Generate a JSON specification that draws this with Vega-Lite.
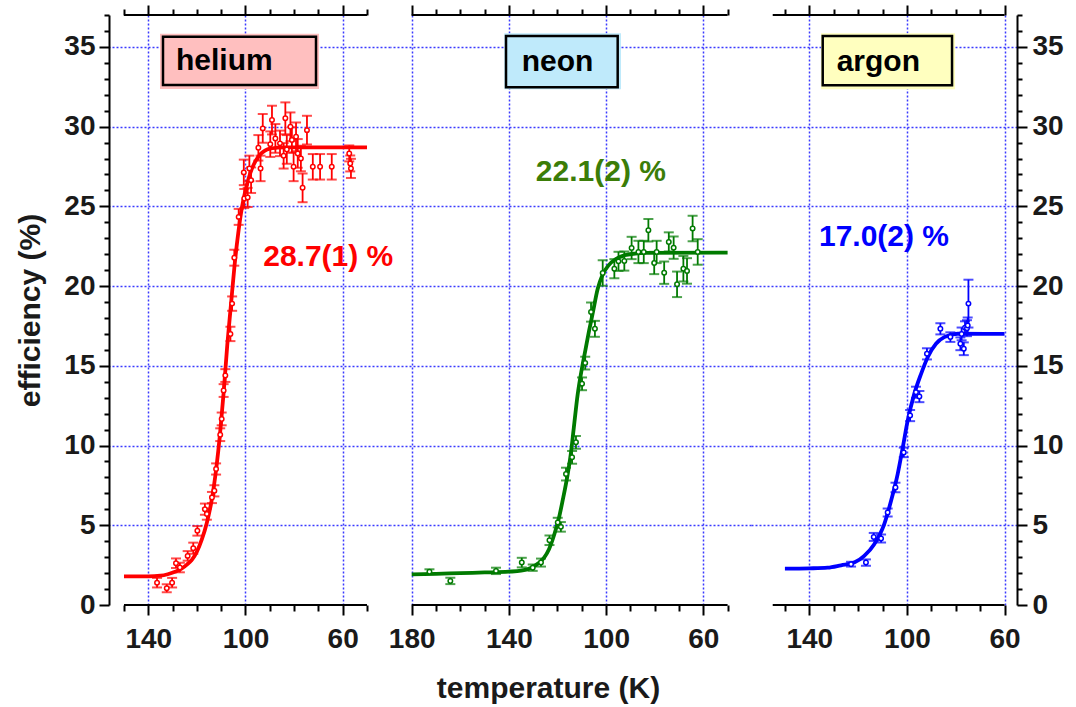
{
  "$schema": "https://vega.github.io/schema/vega-lite/v6.json",
  "background": "white",
  "padding": {"top": 1, "left": 15, "right": 5, "bottom": 5},
  "config": {"view": {"stroke": null}, "font": "Liberation Sans"},
  "spacing": 0,
  "bounds": "flush",
  "datasets": {
    "frame": [
      {"gas": "helium", "side": "bottom", "T": 150, "T2": 50, "eff": 0},
      {"gas": "helium", "side": "top", "T": 150, "T2": 50, "eff": 37},
      {"gas": "neon", "side": "bottom", "T": 180, "T2": 50, "eff": 0},
      {"gas": "neon", "side": "top", "T": 180, "T2": 50, "eff": 37},
      {"gas": "argon", "side": "bottom", "T": 155, "T2": 60, "eff": 0},
      {"gas": "argon", "side": "top", "T": 155, "T2": 60, "eff": 37}
    ],
    "boxes": [
      {"gas": "helium", "part": "halo", "T": 135.18, "T2": 69.75, "eff": 35.82, "eff2": 32.36},
      {"gas": "helium", "part": "frame", "T": 133.95, "T2": 70.98, "eff": 35.63, "eff2": 32.61},
      {"gas": "neon", "part": "halo", "T": 141.89, "T2": 93.87, "eff": 35.86, "eff2": 32.34},
      {"gas": "neon", "part": "frame", "T": 141.19, "T2": 95.23, "eff": 35.69, "eff2": 32.47},
      {"gas": "argon", "part": "halo", "T": 135.21, "T2": 80.29, "eff": 35.86, "eff2": 32.34},
      {"gas": "argon", "part": "frame", "T": 134.51, "T2": 81.52, "eff": 35.69, "eff2": 32.6}
    ],
    "labels": [
      {"gas": "helium", "kind": "name", "T": 128.6, "eff": 34.12, "text": "helium"},
      {"gas": "helium", "kind": "value", "T": 92.7, "eff": 21.82, "text": "28.7(1) %"},
      {"gas": "neon", "kind": "name", "T": 134.7, "eff": 34.08, "text": "neon"},
      {"gas": "neon", "kind": "value", "T": 128.9, "eff": 27.17, "text": "22.1(2) %"},
      {"gas": "argon", "kind": "name", "T": 128.8, "eff": 34.08, "text": "argon"},
      {"gas": "argon", "kind": "value", "T": 136.05, "eff": 23.08, "text": "17.0(2) %"}
    ],
    "fit": [
      {"gas": "helium", "T": 150, "eff": 1.8},
      {"gas": "helium", "T": 140, "eff": 1.8},
      {"gas": "helium", "T": 135, "eff": 1.84},
      {"gas": "helium", "T": 132, "eff": 1.93},
      {"gas": "helium", "T": 129, "eff": 2.08},
      {"gas": "helium", "T": 126.5, "eff": 2.26},
      {"gas": "helium", "T": 124, "eff": 2.55},
      {"gas": "helium", "T": 122, "eff": 2.85},
      {"gas": "helium", "T": 120, "eff": 3.35},
      {"gas": "helium", "T": 118, "eff": 4.1},
      {"gas": "helium", "T": 116, "eff": 5.1},
      {"gas": "helium", "T": 114, "eff": 6.5},
      {"gas": "helium", "T": 112, "eff": 8.6},
      {"gas": "helium", "T": 110.5, "eff": 10.7},
      {"gas": "helium", "T": 109, "eff": 13.3},
      {"gas": "helium", "T": 107.5, "eff": 16.3},
      {"gas": "helium", "T": 106, "eff": 18.8},
      {"gas": "helium", "T": 104.5, "eff": 21.3},
      {"gas": "helium", "T": 103, "eff": 23.3},
      {"gas": "helium", "T": 101.5, "eff": 24.9},
      {"gas": "helium", "T": 100, "eff": 26.0},
      {"gas": "helium", "T": 98, "eff": 27.1},
      {"gas": "helium", "T": 96, "eff": 27.8},
      {"gas": "helium", "T": 94, "eff": 28.25},
      {"gas": "helium", "T": 92, "eff": 28.5},
      {"gas": "helium", "T": 90, "eff": 28.62},
      {"gas": "helium", "T": 87, "eff": 28.68},
      {"gas": "helium", "T": 84, "eff": 28.7},
      {"gas": "helium", "T": 50, "eff": 28.7},
      {"gas": "neon", "T": 180, "eff": 1.92},
      {"gas": "neon", "T": 170, "eff": 1.95},
      {"gas": "neon", "T": 160, "eff": 2.0},
      {"gas": "neon", "T": 150, "eff": 2.04},
      {"gas": "neon", "T": 140, "eff": 2.09},
      {"gas": "neon", "T": 135, "eff": 2.15},
      {"gas": "neon", "T": 131, "eff": 2.32},
      {"gas": "neon", "T": 128, "eff": 2.6},
      {"gas": "neon", "T": 125.5, "eff": 2.97},
      {"gas": "neon", "T": 123.5, "eff": 3.5},
      {"gas": "neon", "T": 121.3, "eff": 4.44},
      {"gas": "neon", "T": 119.5, "eff": 5.4},
      {"gas": "neon", "T": 117.9, "eff": 6.54},
      {"gas": "neon", "T": 115.8, "eff": 8.21},
      {"gas": "neon", "T": 114.5, "eff": 9.5},
      {"gas": "neon", "T": 113.3, "eff": 11.1},
      {"gas": "neon", "T": 111.7, "eff": 13.2},
      {"gas": "neon", "T": 110, "eff": 14.8},
      {"gas": "neon", "T": 108.5, "eff": 16.0},
      {"gas": "neon", "T": 107, "eff": 17.2},
      {"gas": "neon", "T": 105.5, "eff": 18.3},
      {"gas": "neon", "T": 103.5, "eff": 19.8},
      {"gas": "neon", "T": 101.5, "eff": 20.7},
      {"gas": "neon", "T": 99, "eff": 21.3},
      {"gas": "neon", "T": 96, "eff": 21.7},
      {"gas": "neon", "T": 92.5, "eff": 21.93},
      {"gas": "neon", "T": 88, "eff": 22.04},
      {"gas": "neon", "T": 84, "eff": 22.08},
      {"gas": "neon", "T": 50, "eff": 22.1},
      {"gas": "argon", "T": 150, "eff": 2.28},
      {"gas": "argon", "T": 140, "eff": 2.3},
      {"gas": "argon", "T": 132.5, "eff": 2.34},
      {"gas": "argon", "T": 127, "eff": 2.49},
      {"gas": "argon", "T": 121.6, "eff": 2.66},
      {"gas": "argon", "T": 117.5, "eff": 3.08},
      {"gas": "argon", "T": 113.4, "eff": 3.81},
      {"gas": "argon", "T": 109.3, "eff": 5.07},
      {"gas": "argon", "T": 106.5, "eff": 6.54},
      {"gas": "argon", "T": 103.8, "eff": 8.21},
      {"gas": "argon", "T": 101.7, "eff": 9.88},
      {"gas": "argon", "T": 99.7, "eff": 11.56},
      {"gas": "argon", "T": 97, "eff": 13.24},
      {"gas": "argon", "T": 94.2, "eff": 14.5},
      {"gas": "argon", "T": 91.5, "eff": 15.54},
      {"gas": "argon", "T": 88.1, "eff": 16.38},
      {"gas": "argon", "T": 84.7, "eff": 16.8},
      {"gas": "argon", "T": 79.2, "eff": 17.01},
      {"gas": "argon", "T": 60, "eff": 17.0}
    ],
    "pts": [
      {"gas": "helium", "T": 136.4, "eff": 1.40, "lo": 1.10, "hi": 1.70},
      {"gas": "helium", "T": 132.4, "eff": 1.05, "lo": 0.80, "hi": 1.30},
      {"gas": "helium", "T": 130.2, "eff": 1.40, "lo": 1.10, "hi": 1.70},
      {"gas": "helium", "T": 128.6, "eff": 2.62, "lo": 2.32, "hi": 2.92},
      {"gas": "helium", "T": 127.0, "eff": 2.35, "lo": 2.05, "hi": 2.65},
      {"gas": "helium", "T": 123.8, "eff": 3.08, "lo": 2.78, "hi": 3.38},
      {"gas": "helium", "T": 121.5, "eff": 3.56, "lo": 3.21, "hi": 3.91},
      {"gas": "helium", "T": 119.8, "eff": 4.65, "lo": 4.35, "hi": 4.95},
      {"gas": "helium", "T": 116.7, "eff": 6.01, "lo": 5.66, "hi": 6.36},
      {"gas": "helium", "T": 115.9, "eff": 5.70, "lo": 5.35, "hi": 6.05},
      {"gas": "helium", "T": 113.8, "eff": 6.74, "lo": 6.39, "hi": 7.09},
      {"gas": "helium", "T": 112.8, "eff": 7.16, "lo": 6.81, "hi": 7.51},
      {"gas": "helium", "T": 112.1, "eff": 8.53, "lo": 8.18, "hi": 8.88},
      {"gas": "helium", "T": 110.4, "eff": 10.68, "lo": 10.28, "hi": 11.08},
      {"gas": "helium", "T": 109.8, "eff": 11.67, "lo": 11.27, "hi": 12.07},
      {"gas": "helium", "T": 109.0, "eff": 13.45, "lo": 13.05, "hi": 13.85},
      {"gas": "helium", "T": 108.3, "eff": 14.39, "lo": 13.99, "hi": 14.79},
      {"gas": "helium", "T": 106.2, "eff": 17.00, "lo": 16.55, "hi": 17.45},
      {"gas": "helium", "T": 105.5, "eff": 18.90, "lo": 18.45, "hi": 19.35},
      {"gas": "helium", "T": 104.6, "eff": 21.78, "lo": 21.28, "hi": 22.28},
      {"gas": "helium", "T": 102.8, "eff": 24.34, "lo": 23.84, "hi": 24.84},
      {"gas": "helium", "T": 100.5, "eff": 25.49, "lo": 24.89, "hi": 26.09},
      {"gas": "helium", "T": 99.1, "eff": 25.56, "lo": 24.96, "hi": 26.16},
      {"gas": "helium", "T": 100.7, "eff": 27.13, "lo": 26.33, "hi": 27.93},
      {"gas": "helium", "T": 98.4, "eff": 27.38, "lo": 26.58, "hi": 28.18},
      {"gas": "helium", "T": 97.7, "eff": 26.64, "lo": 25.84, "hi": 27.44},
      {"gas": "helium", "T": 94.7, "eff": 28.67, "lo": 27.87, "hi": 29.47},
      {"gas": "helium", "T": 93.8, "eff": 27.38, "lo": 26.58, "hi": 28.18},
      {"gas": "helium", "T": 92.9, "eff": 29.89, "lo": 28.99, "hi": 30.79},
      {"gas": "helium", "T": 89.8, "eff": 28.90, "lo": 28.10, "hi": 29.70},
      {"gas": "helium", "T": 89.1, "eff": 30.41, "lo": 29.51, "hi": 31.31},
      {"gas": "helium", "T": 87.7, "eff": 29.26, "lo": 28.36, "hi": 30.16},
      {"gas": "helium", "T": 85.8, "eff": 28.95, "lo": 28.15, "hi": 29.75},
      {"gas": "helium", "T": 84.3, "eff": 28.17, "lo": 27.37, "hi": 28.97},
      {"gas": "helium", "T": 83.6, "eff": 30.52, "lo": 29.52, "hi": 31.52},
      {"gas": "helium", "T": 83.0, "eff": 28.57, "lo": 27.67, "hi": 29.47},
      {"gas": "helium", "T": 81.5, "eff": 29.99, "lo": 29.09, "hi": 30.89},
      {"gas": "helium", "T": 80.9, "eff": 29.16, "lo": 28.36, "hi": 29.96},
      {"gas": "helium", "T": 80.2, "eff": 27.48, "lo": 26.58, "hi": 28.38},
      {"gas": "helium", "T": 79.2, "eff": 29.36, "lo": 28.46, "hi": 30.26},
      {"gas": "helium", "T": 78.5, "eff": 28.32, "lo": 27.42, "hi": 29.22},
      {"gas": "helium", "T": 77.2, "eff": 28.00, "lo": 27.20, "hi": 28.80},
      {"gas": "helium", "T": 76.5, "eff": 26.16, "lo": 25.26, "hi": 27.06},
      {"gas": "helium", "T": 74.7, "eff": 29.78, "lo": 28.88, "hi": 30.68},
      {"gas": "helium", "T": 72.3, "eff": 27.48, "lo": 26.68, "hi": 28.28},
      {"gas": "helium", "T": 69.3, "eff": 27.48, "lo": 26.68, "hi": 28.28},
      {"gas": "helium", "T": 64.5, "eff": 27.48, "lo": 26.68, "hi": 28.28},
      {"gas": "helium", "T": 57.3, "eff": 28.32, "lo": 27.82, "hi": 28.82},
      {"gas": "helium", "T": 56.9, "eff": 27.69, "lo": 27.19, "hi": 28.19},
      {"gas": "helium", "T": 56.6, "eff": 27.38, "lo": 26.78, "hi": 27.98},
      {"gas": "neon", "T": 172.7, "eff": 2.09, "lo": 1.94, "hi": 2.24},
      {"gas": "neon", "T": 164.1, "eff": 1.51, "lo": 1.31, "hi": 1.71},
      {"gas": "neon", "T": 145.3, "eff": 2.14, "lo": 1.94, "hi": 2.34},
      {"gas": "neon", "T": 134.7, "eff": 2.66, "lo": 2.36, "hi": 2.96},
      {"gas": "neon", "T": 130.2, "eff": 2.34, "lo": 2.14, "hi": 2.54},
      {"gas": "neon", "T": 126.8, "eff": 2.66, "lo": 2.41, "hi": 2.91},
      {"gas": "neon", "T": 123.3, "eff": 4.06, "lo": 3.76, "hi": 4.36},
      {"gas": "neon", "T": 119.9, "eff": 5.17, "lo": 4.87, "hi": 5.47},
      {"gas": "neon", "T": 118.6, "eff": 4.90, "lo": 4.60, "hi": 5.20},
      {"gas": "neon", "T": 116.5, "eff": 8.21, "lo": 7.81, "hi": 8.61},
      {"gas": "neon", "T": 114.0, "eff": 9.26, "lo": 8.86, "hi": 9.66},
      {"gas": "neon", "T": 112.4, "eff": 10.20, "lo": 9.80, "hi": 10.60},
      {"gas": "neon", "T": 109.9, "eff": 13.87, "lo": 13.47, "hi": 14.27},
      {"gas": "neon", "T": 108.6, "eff": 15.17, "lo": 14.77, "hi": 15.57},
      {"gas": "neon", "T": 106.2, "eff": 18.37, "lo": 17.77, "hi": 18.97},
      {"gas": "neon", "T": 104.6, "eff": 17.32, "lo": 16.82, "hi": 17.82},
      {"gas": "neon", "T": 101.4, "eff": 20.82, "lo": 20.02, "hi": 21.62},
      {"gas": "neon", "T": 96.6, "eff": 21.09, "lo": 20.49, "hi": 21.69},
      {"gas": "neon", "T": 94.9, "eff": 21.55, "lo": 20.95, "hi": 22.15},
      {"gas": "neon", "T": 92.5, "eff": 21.57, "lo": 20.97, "hi": 22.17},
      {"gas": "neon", "T": 89.5, "eff": 22.39, "lo": 21.69, "hi": 23.09},
      {"gas": "neon", "T": 86.7, "eff": 22.14, "lo": 21.44, "hi": 22.84},
      {"gas": "neon", "T": 84.5, "eff": 22.14, "lo": 21.44, "hi": 22.84},
      {"gas": "neon", "T": 82.6, "eff": 23.50, "lo": 22.80, "hi": 24.20},
      {"gas": "neon", "T": 80.2, "eff": 21.45, "lo": 20.75, "hi": 22.15},
      {"gas": "neon", "T": 79.2, "eff": 22.14, "lo": 21.44, "hi": 22.84},
      {"gas": "neon", "T": 76.1, "eff": 20.84, "lo": 20.14, "hi": 21.54},
      {"gas": "neon", "T": 74.2, "eff": 22.77, "lo": 22.17, "hi": 23.37},
      {"gas": "neon", "T": 72.2, "eff": 22.41, "lo": 21.71, "hi": 23.11},
      {"gas": "neon", "T": 70.8, "eff": 20.11, "lo": 19.31, "hi": 20.91},
      {"gas": "neon", "T": 68.2, "eff": 21.09, "lo": 20.29, "hi": 21.89},
      {"gas": "neon", "T": 66.7, "eff": 20.95, "lo": 20.15, "hi": 21.75},
      {"gas": "neon", "T": 64.4, "eff": 23.61, "lo": 22.81, "hi": 24.41},
      {"gas": "neon", "T": 62.3, "eff": 22.14, "lo": 21.34, "hi": 22.94},
      {"gas": "argon", "T": 122.9, "eff": 2.56, "lo": 2.41, "hi": 2.71},
      {"gas": "argon", "T": 116.8, "eff": 2.66, "lo": 2.46, "hi": 2.86},
      {"gas": "argon", "T": 113.6, "eff": 4.27, "lo": 4.02, "hi": 4.52},
      {"gas": "argon", "T": 110.6, "eff": 4.17, "lo": 3.92, "hi": 4.42},
      {"gas": "argon", "T": 107.9, "eff": 5.80, "lo": 5.55, "hi": 6.05},
      {"gas": "argon", "T": 104.7, "eff": 7.37, "lo": 7.07, "hi": 7.67},
      {"gas": "argon", "T": 101.3, "eff": 9.57, "lo": 9.27, "hi": 9.87},
      {"gas": "argon", "T": 98.7, "eff": 11.88, "lo": 11.53, "hi": 12.23},
      {"gas": "argon", "T": 96.3, "eff": 13.34, "lo": 12.99, "hi": 13.69},
      {"gas": "argon", "T": 94.9, "eff": 13.07, "lo": 12.72, "hi": 13.42},
      {"gas": "argon", "T": 91.8, "eff": 15.75, "lo": 15.40, "hi": 16.10},
      {"gas": "argon", "T": 86.3, "eff": 17.32, "lo": 16.97, "hi": 17.67},
      {"gas": "argon", "T": 82.2, "eff": 16.80, "lo": 16.50, "hi": 17.10},
      {"gas": "argon", "T": 78.1, "eff": 16.38, "lo": 15.98, "hi": 16.78},
      {"gas": "argon", "T": 77.6, "eff": 17.00, "lo": 16.60, "hi": 17.40},
      {"gas": "argon", "T": 76.7, "eff": 16.07, "lo": 15.67, "hi": 16.47},
      {"gas": "argon", "T": 76.2, "eff": 17.39, "lo": 16.99, "hi": 17.79},
      {"gas": "argon", "T": 75.4, "eff": 17.36, "lo": 16.86, "hi": 17.86},
      {"gas": "argon", "T": 75.1, "eff": 17.53, "lo": 17.03, "hi": 18.03},
      {"gas": "argon", "T": 74.8, "eff": 18.90, "lo": 17.40, "hi": 20.40}
    ]
  },
  "hconcat": [
    {
      "width": 281,
      "height": 590,
      "resolve": {"axis": {"x": "independent", "y": "independent"}},
      "layer": [
        {
          "data": {"name": "frame"},
          "transform": [{"filter": "datum.gas === 'helium' && datum.side === 'bottom'"}],
          "mark": {"type": "rule", "color": "black", "strokeWidth": 2},
          "encoding": {
            "x": {"field": "T", "type": "quantitative", "scale": {"domain": [40.53, 156.17], "reverse": true, "nice": false, "zero": false},
              "axis": {"orient": "bottom", "values": [150, 140, 130, 120, 110, 100, 90, 80, 70, 60, 50], "domain": false,
                "grid": true, "gridColor": "#3a3aff", "gridDash": [2, 2], "gridWidth": 1.5,
                "gridOpacity": {"condition": {"test": "datum.value % 40 === 20", "value": 1}, "value": 0},
                "tickColor": "black", "tickWidth": 2,
                "tickSize": {"condition": {"test": "datum.value % 40 === 20", "value": 10}, "value": 6},
                "labelExpr": "datum.value % 40 === 20 ? datum.label : ''",
                "labelFont": "Liberation Sans", "labelFontWeight": "bold", "labelFontSize": 28, "labelColor": "#1a1a1a",
                "labelPadding": 10, "labelFlush": false, "labelOverlap": false, "labelBound": false, "title": null}},
            "x2": {"field": "T2"},
            "y": {"field": "eff", "type": "quantitative", "scale": {"domain": [0, 37], "nice": false, "zero": false},
              "axis": {"orient": "left", "values": [0, 1, 2, 3, 4, 5, 6, 7, 8, 9, 10, 11, 12, 13, 14, 15, 16, 17, 18, 19, 20, 21, 22, 23, 24, 25, 26, 27, 28, 29, 30, 31, 32, 33, 34, 35, 36, 37],
                "domain": true, "domainColor": "black", "domainWidth": 2,
                "grid": true, "gridColor": "#3a3aff", "gridDash": [2, 2], "gridWidth": 1.5,
                "gridOpacity": {"condition": {"test": "datum.value % 5 === 0 && datum.value > 0", "value": 1}, "value": 0},
                "tickColor": "black", "tickWidth": 2,
                "tickSize": {"condition": {"test": "datum.value % 5 === 0", "value": 10}, "value": 5},
                "labelExpr": "datum.value % 5 === 0 ? datum.label : ''",
                "labelFont": "Liberation Sans", "labelFontWeight": "bold", "labelFontSize": 28, "labelColor": "#1a1a1a",
                "labelPadding": 4, "labelOverlap": false, "labelFlush": false,
                "title": "efficiency (%)", "titleFont": "Liberation Sans", "titleFontWeight": "bold", "titleFontSize": 30, "titleColor": "#1a1a1a", "titlePadding": 18}}
          }
        },
        {
          "data": {"name": "frame"},
          "transform": [{"filter": "datum.gas === 'helium' && datum.side === 'top'"}],
          "mark": {"type": "rule", "color": "black", "strokeWidth": 2},
          "encoding": {
            "x": {"field": "T", "type": "quantitative", "scale": {"domain": [40.53, 156.17], "reverse": true, "nice": false, "zero": false},
              "axis": {"orient": "top", "values": [150, 140, 130, 120, 110, 100, 90, 80, 70, 60, 50], "domain": false, "grid": false, "labels": false,
                "tickColor": "black", "tickWidth": 2,
                "tickSize": {"condition": {"test": "datum.value % 40 === 20", "value": 10}, "value": 6}, "title": null}},
            "x2": {"field": "T2"},
            "y": {"field": "eff", "type": "quantitative", "scale": {"domain": [0, 37], "nice": false, "zero": false}, "axis": null}
          }
        },
        {
          "data": {"name": "boxes"},
          "transform": [{"filter": "datum.gas === 'helium' && datum.part === 'halo'"}],
          "mark": {"type": "rect", "fill": "#ffbfbf"},
          "encoding": {
            "x": {"field": "T", "type": "quantitative", "scale": {"domain": [40.53, 156.17], "reverse": true, "nice": false, "zero": false}, "axis": null},
            "x2": {"field": "T2"},
            "y": {"field": "eff", "type": "quantitative", "scale": {"domain": [0, 37], "nice": false, "zero": false}, "axis": null},
            "y2": {"field": "eff2"}
          }
        },
        {
          "data": {"name": "boxes"},
          "transform": [{"filter": "datum.gas === 'helium' && datum.part === 'frame'"}],
          "mark": {"type": "rect", "fill": "#ffbfbf", "stroke": "black", "strokeWidth": 2.5},
          "encoding": {
            "x": {"field": "T", "type": "quantitative", "scale": {"domain": [40.53, 156.17], "reverse": true, "nice": false, "zero": false}, "axis": null},
            "x2": {"field": "T2"},
            "y": {"field": "eff", "type": "quantitative", "scale": {"domain": [0, 37], "nice": false, "zero": false}, "axis": null},
            "y2": {"field": "eff2"}
          }
        },
        {
          "data": {"name": "labels"},
          "transform": [{"filter": "datum.gas === 'helium' && datum.kind === 'name'"}],
          "mark": {"type": "text", "align": "left", "baseline": "middle", "font": "Liberation Sans", "fontWeight": "bold", "fontSize": 30, "color": "black"},
          "encoding": {
            "x": {"field": "T", "type": "quantitative", "scale": {"domain": [40.53, 156.17], "reverse": true, "nice": false, "zero": false}, "axis": null},
            "y": {"field": "eff", "type": "quantitative", "scale": {"domain": [0, 37], "nice": false, "zero": false}, "axis": null},
            "text": {"field": "text"}
          }
        },
        {
          "data": {"name": "labels"},
          "transform": [{"filter": "datum.gas === 'helium' && datum.kind === 'value'"}],
          "mark": {"type": "text", "align": "left", "baseline": "middle", "font": "Liberation Sans", "fontWeight": "bold", "fontSize": 30, "color": "#ff0000"},
          "encoding": {
            "x": {"field": "T", "type": "quantitative", "scale": {"domain": [40.53, 156.17], "reverse": true, "nice": false, "zero": false}, "axis": null},
            "y": {"field": "eff", "type": "quantitative", "scale": {"domain": [0, 37], "nice": false, "zero": false}, "axis": null},
            "text": {"field": "text"}
          }
        },
        {
          "data": {"name": "fit"},
          "transform": [{"filter": "datum.gas === 'helium'"}],
          "mark": {"type": "line", "color": "#ff0000", "strokeWidth": 3.8, "interpolate": "monotone"},
          "encoding": {
            "x": {"field": "T", "type": "quantitative", "scale": {"domain": [40.53, 156.17], "reverse": true, "nice": false, "zero": false}, "axis": null},
            "y": {"field": "eff", "type": "quantitative", "scale": {"domain": [0, 37], "nice": false, "zero": false}, "axis": null},
            "order": {"field": "T", "sort": "descending"}
          }
        },
        {
          "data": {"name": "pts"},
          "transform": [{"filter": "datum.gas === 'helium'"}],
          "mark": {"type": "rule", "color": "#ff0000", "strokeWidth": 1.8},
          "encoding": {
            "x": {"field": "T", "type": "quantitative", "scale": {"domain": [40.53, 156.17], "reverse": true, "nice": false, "zero": false}, "axis": null},
            "y": {"field": "lo", "type": "quantitative", "scale": {"domain": [0, 37], "nice": false, "zero": false}, "axis": null},
            "y2": {"field": "hi"}
          }
        },
        {
          "data": {"name": "pts"},
          "transform": [{"filter": "datum.gas === 'helium'"}],
          "mark": {"type": "tick", "orient": "horizontal", "color": "#ff0000", "size": 10, "thickness": 2},
          "encoding": {
            "x": {"field": "T", "type": "quantitative", "scale": {"domain": [40.53, 156.17], "reverse": true, "nice": false, "zero": false}, "axis": null},
            "y": {"field": "lo", "type": "quantitative", "scale": {"domain": [0, 37], "nice": false, "zero": false}, "axis": null}
          }
        },
        {
          "data": {"name": "pts"},
          "transform": [{"filter": "datum.gas === 'helium'"}],
          "mark": {"type": "tick", "orient": "horizontal", "color": "#ff0000", "size": 10, "thickness": 2},
          "encoding": {
            "x": {"field": "T", "type": "quantitative", "scale": {"domain": [40.53, 156.17], "reverse": true, "nice": false, "zero": false}, "axis": null},
            "y": {"field": "hi", "type": "quantitative", "scale": {"domain": [0, 37], "nice": false, "zero": false}, "axis": null}
          }
        },
        {
          "data": {"name": "pts"},
          "transform": [{"filter": "datum.gas === 'helium'"}],
          "mark": {"type": "point", "shape": "circle", "filled": false, "fill": "white", "fillOpacity": 1, "color": "#ff0000", "size": 20, "strokeWidth": 1.5, "opacity": 1},
          "encoding": {
            "x": {"field": "T", "type": "quantitative", "scale": {"domain": [40.53, 156.17], "reverse": true, "nice": false, "zero": false}, "axis": null},
            "y": {"field": "eff", "type": "quantitative", "scale": {"domain": [0, 37], "nice": false, "zero": false}, "axis": null}
          }
        }
      ]
    },
    {
      "width": 361,
      "height": 590,
      "resolve": {"axis": {"x": "independent", "y": "independent"}},
      "layer": [
        {
          "data": {"name": "frame"},
          "transform": [{"filter": "datum.gas === 'neon' && datum.side === 'bottom'"}],
          "mark": {"type": "rule", "color": "black", "strokeWidth": 2},
          "encoding": {
            "x": {"field": "T", "type": "quantitative", "scale": {"domain": [40.37, 188.93], "reverse": true, "nice": false, "zero": false},
              "axis": {"orient": "bottom", "values": [180, 170, 160, 150, 140, 130, 120, 110, 100, 90, 80, 70, 60, 50], "domain": false,
                "grid": true, "gridColor": "#3a3aff", "gridDash": [2, 2], "gridWidth": 1.5,
                "gridOpacity": {"condition": {"test": "datum.value % 40 === 20", "value": 1}, "value": 0},
                "tickColor": "black", "tickWidth": 2,
                "tickSize": {"condition": {"test": "datum.value % 40 === 20", "value": 10}, "value": 6},
                "labelExpr": "datum.value % 40 === 20 ? datum.label : ''",
                "labelFont": "Liberation Sans", "labelFontWeight": "bold", "labelFontSize": 28, "labelColor": "#1a1a1a",
                "labelPadding": 10, "labelFlush": false, "labelOverlap": false, "labelBound": false,
                "title": "temperature (K)", "titleX": 158, "titleFont": "Liberation Sans", "titleFontWeight": "bold", "titleFontSize": 30, "titleColor": "#1a1a1a", "titlePadding": 20}},
            "x2": {"field": "T2"},
            "y": {"field": "eff", "type": "quantitative", "scale": {"domain": [0, 37], "nice": false, "zero": false},
              "axis": {"orient": "left", "values": [5, 10, 15, 20, 25, 30, 35], "domain": false, "ticks": false, "labels": false,
                "grid": true, "gridColor": "#3a3aff", "gridDash": [2, 2], "gridWidth": 1.5, "gridOpacity": 1, "title": null}}
          }
        },
        {
          "data": {"name": "frame"},
          "transform": [{"filter": "datum.gas === 'neon' && datum.side === 'top'"}],
          "mark": {"type": "rule", "color": "black", "strokeWidth": 2},
          "encoding": {
            "x": {"field": "T", "type": "quantitative", "scale": {"domain": [40.37, 188.93], "reverse": true, "nice": false, "zero": false},
              "axis": {"orient": "top", "values": [180, 170, 160, 150, 140, 130, 120, 110, 100, 90, 80, 70, 60, 50], "domain": false, "grid": false, "labels": false,
                "tickColor": "black", "tickWidth": 2,
                "tickSize": {"condition": {"test": "datum.value % 40 === 20", "value": 10}, "value": 6}, "title": null}},
            "x2": {"field": "T2"},
            "y": {"field": "eff", "type": "quantitative", "scale": {"domain": [0, 37], "nice": false, "zero": false}, "axis": null}
          }
        },
        {
          "data": {"name": "boxes"},
          "transform": [{"filter": "datum.gas === 'neon' && datum.part === 'halo'"}],
          "mark": {"type": "rect", "fill": "#bfeafb"},
          "encoding": {
            "x": {"field": "T", "type": "quantitative", "scale": {"domain": [40.37, 188.93], "reverse": true, "nice": false, "zero": false}, "axis": null},
            "x2": {"field": "T2"},
            "y": {"field": "eff", "type": "quantitative", "scale": {"domain": [0, 37], "nice": false, "zero": false}, "axis": null},
            "y2": {"field": "eff2"}
          }
        },
        {
          "data": {"name": "boxes"},
          "transform": [{"filter": "datum.gas === 'neon' && datum.part === 'frame'"}],
          "mark": {"type": "rect", "fill": "#bfeafb", "stroke": "black", "strokeWidth": 2.5},
          "encoding": {
            "x": {"field": "T", "type": "quantitative", "scale": {"domain": [40.37, 188.93], "reverse": true, "nice": false, "zero": false}, "axis": null},
            "x2": {"field": "T2"},
            "y": {"field": "eff", "type": "quantitative", "scale": {"domain": [0, 37], "nice": false, "zero": false}, "axis": null},
            "y2": {"field": "eff2"}
          }
        },
        {
          "data": {"name": "labels"},
          "transform": [{"filter": "datum.gas === 'neon' && datum.kind === 'name'"}],
          "mark": {"type": "text", "align": "left", "baseline": "middle", "font": "Liberation Sans", "fontWeight": "bold", "fontSize": 30, "color": "black"},
          "encoding": {
            "x": {"field": "T", "type": "quantitative", "scale": {"domain": [40.37, 188.93], "reverse": true, "nice": false, "zero": false}, "axis": null},
            "y": {"field": "eff", "type": "quantitative", "scale": {"domain": [0, 37], "nice": false, "zero": false}, "axis": null},
            "text": {"field": "text"}
          }
        },
        {
          "data": {"name": "labels"},
          "transform": [{"filter": "datum.gas === 'neon' && datum.kind === 'value'"}],
          "mark": {"type": "text", "align": "left", "baseline": "middle", "font": "Liberation Sans", "fontWeight": "bold", "fontSize": 30, "color": "#3b7d08"},
          "encoding": {
            "x": {"field": "T", "type": "quantitative", "scale": {"domain": [40.37, 188.93], "reverse": true, "nice": false, "zero": false}, "axis": null},
            "y": {"field": "eff", "type": "quantitative", "scale": {"domain": [0, 37], "nice": false, "zero": false}, "axis": null},
            "text": {"field": "text"}
          }
        },
        {
          "data": {"name": "fit"},
          "transform": [{"filter": "datum.gas === 'neon'"}],
          "mark": {"type": "line", "color": "#007a00", "strokeWidth": 3.8, "interpolate": "monotone"},
          "encoding": {
            "x": {"field": "T", "type": "quantitative", "scale": {"domain": [40.37, 188.93], "reverse": true, "nice": false, "zero": false}, "axis": null},
            "y": {"field": "eff", "type": "quantitative", "scale": {"domain": [0, 37], "nice": false, "zero": false}, "axis": null},
            "order": {"field": "T", "sort": "descending"}
          }
        },
        {
          "data": {"name": "pts"},
          "transform": [{"filter": "datum.gas === 'neon'"}],
          "mark": {"type": "rule", "color": "#007a00", "strokeWidth": 1.8},
          "encoding": {
            "x": {"field": "T", "type": "quantitative", "scale": {"domain": [40.37, 188.93], "reverse": true, "nice": false, "zero": false}, "axis": null},
            "y": {"field": "lo", "type": "quantitative", "scale": {"domain": [0, 37], "nice": false, "zero": false}, "axis": null},
            "y2": {"field": "hi"}
          }
        },
        {
          "data": {"name": "pts"},
          "transform": [{"filter": "datum.gas === 'neon'"}],
          "mark": {"type": "tick", "orient": "horizontal", "color": "#007a00", "size": 10, "thickness": 2},
          "encoding": {
            "x": {"field": "T", "type": "quantitative", "scale": {"domain": [40.37, 188.93], "reverse": true, "nice": false, "zero": false}, "axis": null},
            "y": {"field": "lo", "type": "quantitative", "scale": {"domain": [0, 37], "nice": false, "zero": false}, "axis": null}
          }
        },
        {
          "data": {"name": "pts"},
          "transform": [{"filter": "datum.gas === 'neon'"}],
          "mark": {"type": "tick", "orient": "horizontal", "color": "#007a00", "size": 10, "thickness": 2},
          "encoding": {
            "x": {"field": "T", "type": "quantitative", "scale": {"domain": [40.37, 188.93], "reverse": true, "nice": false, "zero": false}, "axis": null},
            "y": {"field": "hi", "type": "quantitative", "scale": {"domain": [0, 37], "nice": false, "zero": false}, "axis": null}
          }
        },
        {
          "data": {"name": "pts"},
          "transform": [{"filter": "datum.gas === 'neon'"}],
          "mark": {"type": "point", "shape": "circle", "filled": false, "fill": "white", "fillOpacity": 1, "color": "#007a00", "size": 20, "strokeWidth": 1.5, "opacity": 1},
          "encoding": {
            "x": {"field": "T", "type": "quantitative", "scale": {"domain": [40.37, 188.93], "reverse": true, "nice": false, "zero": false}, "axis": null},
            "y": {"field": "eff", "type": "quantitative", "scale": {"domain": [0, 37], "nice": false, "zero": false}, "axis": null}
          }
        }
      ]
    },
    {
      "width": 266,
      "height": 590,
      "resolve": {"axis": {"x": "independent", "y": "independent"}},
      "layer": [
        {
          "data": {"name": "frame"},
          "transform": [{"filter": "datum.gas === 'argon' && datum.side === 'bottom'"}],
          "mark": {"type": "rule", "color": "black", "strokeWidth": 2},
          "encoding": {
            "x": {"field": "T", "type": "quantitative", "scale": {"domain": [54.9, 163.9], "reverse": true, "nice": false, "zero": false},
              "axis": {"orient": "bottom", "values": [150, 140, 130, 120, 110, 100, 90, 80, 70, 60], "domain": false,
                "grid": true, "gridColor": "#3a3aff", "gridDash": [2, 2], "gridWidth": 1.5,
                "gridOpacity": {"condition": {"test": "datum.value % 40 === 20", "value": 1}, "value": 0},
                "tickColor": "black", "tickWidth": 2,
                "tickSize": {"condition": {"test": "datum.value % 40 === 20", "value": 10}, "value": 6},
                "labelExpr": "datum.value % 40 === 20 ? datum.label : ''",
                "labelFont": "Liberation Sans", "labelFontWeight": "bold", "labelFontSize": 28, "labelColor": "#1a1a1a",
                "labelPadding": 10, "labelFlush": false, "labelOverlap": false, "labelBound": false, "title": null}},
            "x2": {"field": "T2"},
            "y": {"field": "eff", "type": "quantitative", "scale": {"domain": [0, 37], "nice": false, "zero": false},
              "axis": {"orient": "right", "values": [0, 1, 2, 3, 4, 5, 6, 7, 8, 9, 10, 11, 12, 13, 14, 15, 16, 17, 18, 19, 20, 21, 22, 23, 24, 25, 26, 27, 28, 29, 30, 31, 32, 33, 34, 35, 36, 37],
                "domain": true, "domainColor": "black", "domainWidth": 2,
                "grid": true, "gridColor": "#3a3aff", "gridDash": [2, 2], "gridWidth": 1.5,
                "gridOpacity": {"condition": {"test": "datum.value % 5 === 0 && datum.value > 0", "value": 1}, "value": 0},
                "tickColor": "black", "tickWidth": 2,
                "tickSize": {"condition": {"test": "datum.value % 5 === 0", "value": 10}, "value": 5},
                "labelExpr": "datum.value % 5 === 0 ? datum.label : ''",
                "labelFont": "Liberation Sans", "labelFontWeight": "bold", "labelFontSize": 28, "labelColor": "#1a1a1a",
                "labelPadding": 5, "labelOverlap": false, "labelFlush": false, "title": null}}
          }
        },
        {
          "data": {"name": "frame"},
          "transform": [{"filter": "datum.gas === 'argon' && datum.side === 'top'"}],
          "mark": {"type": "rule", "color": "black", "strokeWidth": 2},
          "encoding": {
            "x": {"field": "T", "type": "quantitative", "scale": {"domain": [54.9, 163.9], "reverse": true, "nice": false, "zero": false},
              "axis": {"orient": "top", "values": [150, 140, 130, 120, 110, 100, 90, 80, 70, 60], "domain": false, "grid": false, "labels": false,
                "tickColor": "black", "tickWidth": 2,
                "tickSize": {"condition": {"test": "datum.value % 40 === 20", "value": 10}, "value": 6}, "title": null}},
            "x2": {"field": "T2"},
            "y": {"field": "eff", "type": "quantitative", "scale": {"domain": [0, 37], "nice": false, "zero": false}, "axis": null}
          }
        },
        {
          "data": {"name": "boxes"},
          "transform": [{"filter": "datum.gas === 'argon' && datum.part === 'halo'"}],
          "mark": {"type": "rect", "fill": "#ffffbf"},
          "encoding": {
            "x": {"field": "T", "type": "quantitative", "scale": {"domain": [54.9, 163.9], "reverse": true, "nice": false, "zero": false}, "axis": null},
            "x2": {"field": "T2"},
            "y": {"field": "eff", "type": "quantitative", "scale": {"domain": [0, 37], "nice": false, "zero": false}, "axis": null},
            "y2": {"field": "eff2"}
          }
        },
        {
          "data": {"name": "boxes"},
          "transform": [{"filter": "datum.gas === 'argon' && datum.part === 'frame'"}],
          "mark": {"type": "rect", "fill": "#ffffbf", "stroke": "black", "strokeWidth": 2.5},
          "encoding": {
            "x": {"field": "T", "type": "quantitative", "scale": {"domain": [54.9, 163.9], "reverse": true, "nice": false, "zero": false}, "axis": null},
            "x2": {"field": "T2"},
            "y": {"field": "eff", "type": "quantitative", "scale": {"domain": [0, 37], "nice": false, "zero": false}, "axis": null},
            "y2": {"field": "eff2"}
          }
        },
        {
          "data": {"name": "labels"},
          "transform": [{"filter": "datum.gas === 'argon' && datum.kind === 'name'"}],
          "mark": {"type": "text", "align": "left", "baseline": "middle", "font": "Liberation Sans", "fontWeight": "bold", "fontSize": 30, "color": "black"},
          "encoding": {
            "x": {"field": "T", "type": "quantitative", "scale": {"domain": [54.9, 163.9], "reverse": true, "nice": false, "zero": false}, "axis": null},
            "y": {"field": "eff", "type": "quantitative", "scale": {"domain": [0, 37], "nice": false, "zero": false}, "axis": null},
            "text": {"field": "text"}
          }
        },
        {
          "data": {"name": "labels"},
          "transform": [{"filter": "datum.gas === 'argon' && datum.kind === 'value'"}],
          "mark": {"type": "text", "align": "left", "baseline": "middle", "font": "Liberation Sans", "fontWeight": "bold", "fontSize": 30, "color": "#0000ff"},
          "encoding": {
            "x": {"field": "T", "type": "quantitative", "scale": {"domain": [54.9, 163.9], "reverse": true, "nice": false, "zero": false}, "axis": null},
            "y": {"field": "eff", "type": "quantitative", "scale": {"domain": [0, 37], "nice": false, "zero": false}, "axis": null},
            "text": {"field": "text"}
          }
        },
        {
          "data": {"name": "fit"},
          "transform": [{"filter": "datum.gas === 'argon'"}],
          "mark": {"type": "line", "color": "#0000ff", "strokeWidth": 3.8, "interpolate": "monotone"},
          "encoding": {
            "x": {"field": "T", "type": "quantitative", "scale": {"domain": [54.9, 163.9], "reverse": true, "nice": false, "zero": false}, "axis": null},
            "y": {"field": "eff", "type": "quantitative", "scale": {"domain": [0, 37], "nice": false, "zero": false}, "axis": null},
            "order": {"field": "T", "sort": "descending"}
          }
        },
        {
          "data": {"name": "pts"},
          "transform": [{"filter": "datum.gas === 'argon'"}],
          "mark": {"type": "rule", "color": "#0000ff", "strokeWidth": 1.8},
          "encoding": {
            "x": {"field": "T", "type": "quantitative", "scale": {"domain": [54.9, 163.9], "reverse": true, "nice": false, "zero": false}, "axis": null},
            "y": {"field": "lo", "type": "quantitative", "scale": {"domain": [0, 37], "nice": false, "zero": false}, "axis": null},
            "y2": {"field": "hi"}
          }
        },
        {
          "data": {"name": "pts"},
          "transform": [{"filter": "datum.gas === 'argon'"}],
          "mark": {"type": "tick", "orient": "horizontal", "color": "#0000ff", "size": 10, "thickness": 2},
          "encoding": {
            "x": {"field": "T", "type": "quantitative", "scale": {"domain": [54.9, 163.9], "reverse": true, "nice": false, "zero": false}, "axis": null},
            "y": {"field": "lo", "type": "quantitative", "scale": {"domain": [0, 37], "nice": false, "zero": false}, "axis": null}
          }
        },
        {
          "data": {"name": "pts"},
          "transform": [{"filter": "datum.gas === 'argon'"}],
          "mark": {"type": "tick", "orient": "horizontal", "color": "#0000ff", "size": 10, "thickness": 2},
          "encoding": {
            "x": {"field": "T", "type": "quantitative", "scale": {"domain": [54.9, 163.9], "reverse": true, "nice": false, "zero": false}, "axis": null},
            "y": {"field": "hi", "type": "quantitative", "scale": {"domain": [0, 37], "nice": false, "zero": false}, "axis": null}
          }
        },
        {
          "data": {"name": "pts"},
          "transform": [{"filter": "datum.gas === 'argon'"}],
          "mark": {"type": "point", "shape": "circle", "filled": false, "fill": "white", "fillOpacity": 1, "color": "#0000ff", "size": 20, "strokeWidth": 1.5, "opacity": 1},
          "encoding": {
            "x": {"field": "T", "type": "quantitative", "scale": {"domain": [54.9, 163.9], "reverse": true, "nice": false, "zero": false}, "axis": null},
            "y": {"field": "eff", "type": "quantitative", "scale": {"domain": [0, 37], "nice": false, "zero": false}, "axis": null}
          }
        }
      ]
    }
  ]
}
